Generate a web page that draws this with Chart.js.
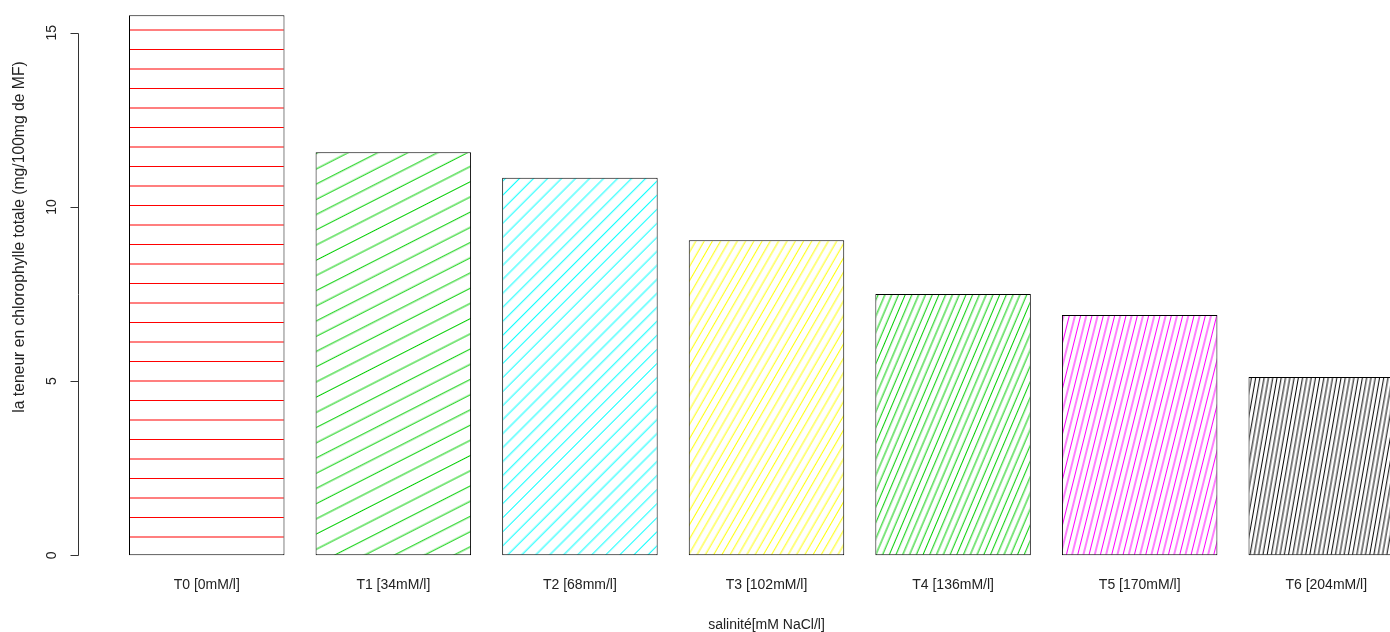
<!DOCTYPE html>
<html>
<head>
<meta charset="utf-8">
<title>Chlorophylle totale</title>
<script src="https://cdn.jsdelivr.net/npm/chart.js@4.4.0/dist/chart.umd.min.js"></script>
<style>
  html, body { margin: 0; padding: 0; background: #fff; overflow: hidden; }
  #wrap { width: 1390px; height: 632px; overflow: hidden; }
</style>
</head>
<body>
<div id="wrap"><canvas id="chloro-chart" width="1460" height="632"></canvas></div>
<script>
const categories = ["T0 [0mM/l]", "T1 [34mM/l]", "T2 [68mm/l]", "T3 [102mM/l]", "T4 [136mM/l]", "T5 [170mM/l]", "T6 [204mM/l]"];
const chlorophyll = [15.5, 11.57, 10.84, 9.04, 7.5, 6.9, 5.12];
const yTicks = [0, 5, 10, 15];

// hachures : couleur, angle (degrés) et écart entre lignes (px)
const hatchColours = ["#ff0000", "#00cd00", "#00ffff", "#ffff00", "#00cd00", "#ff00ff", "#000000"];
const hatchAngles = [0, 27, 45, 60, 67, 76, 80];
const hatchGaps = [19.5, 13.6, 9.9, 7.2, 6.2, 5.5, 4.2];

const FONT = '"Liberation Sans", Arial, sans-serif';

function hatch(colour, angle, gap) {
    // tuile opaque de plusieurs lignes pour garder un écart non entier
    const n = Math.max(1, Math.round(120 / gap));
    const tile = document.createElement("canvas");
    tile.width = 4;
    tile.height = Math.round(n * gap);
    const step = tile.height / n;
    const t = tile.getContext("2d");
    t.fillStyle = "#fff";
    t.fillRect(0, 0, tile.width, tile.height);
    t.fillStyle = colour;
    for (let j = 0; j < n; j++) t.fillRect(0, j * step, tile.width, 1);
    const p = t.createPattern(tile, "repeat");
    p.setTransform(new DOMMatrix().translate(0, 10).rotate(-angle));
    return p;
}

// centres des barres comme barplot(space = 0.2)
const centres = categories.map((_, i) => 0.7 + 1.2 * i);

const rAxes = {
    id: "rAxes",
    afterDraw(chart) {
        const { ctx, scales: { x, y } } = chart;
        const y0 = y.getPixelForValue(0);
        const axisX = x.left + 0.5;
        ctx.save();
        ctx.strokeStyle = "#333";
        ctx.lineWidth = 1;
        ctx.beginPath();
        ctx.moveTo(axisX, Math.round(y.getPixelForValue(yTicks[0])) + 0.5);
        ctx.lineTo(axisX, Math.round(y.getPixelForValue(yTicks[yTicks.length - 1])) + 0.5);
        yTicks.forEach(v => {
            const py = Math.round(y.getPixelForValue(v)) + 0.5;
            ctx.moveTo(axisX - 8, py);
            ctx.lineTo(axisX, py);
        });
        ctx.stroke();

        ctx.fillStyle = "#222";
        ctx.font = "14px " + FONT;
        ctx.textAlign = "center";
        ctx.textBaseline = "middle";
        yTicks.forEach(v => {
            ctx.save();
            ctx.translate(axisX - 26, y.getPixelForValue(v));
            ctx.rotate(-Math.PI / 2);
            ctx.fillText(String(v), 0, 0);
            ctx.restore();
        });
        categories.forEach((c, i) => ctx.fillText(c, x.getPixelForValue(centres[i]), y0 + 30));
        ctx.fillText("salinité[mM NaCl/l]", (x.left + x.right) / 2, y0 + 70);

        ctx.save();
        ctx.translate(20, 237);
        ctx.rotate(-Math.PI / 2);
        ctx.font = "15.7px " + FONT;
        ctx.fillText("la teneur en chlorophylle totale (mg/100mg de MF)", 0, 0);
        ctx.restore();
        ctx.restore();
    }
};

document.addEventListener("DOMContentLoaded", function () {
    const ctx = document.getElementById("chloro-chart").getContext("2d");
    new Chart(ctx, {
        type: "bar",
        data: {
            datasets: [{
                data: chlorophyll.map((v, i) => ({ x: centres[i], y: v })),
                backgroundColor: hatchColours.map((c, i) => hatch(c, hatchAngles[i], hatchGaps[i])),
                borderColor: "#000",
                borderWidth: 1,
                borderSkipped: false,
                categoryPercentage: 1,
                barPercentage: 1 / 1.2
            }]
        },
        options: {
            responsive: false,
            animation: false,
            layout: { padding: { left: 78, right: 5, top: 0, bottom: 55 } },
            plugins: { legend: { display: false }, tooltip: { enabled: false } },
            scales: {
                x: {
                    type: "linear",
                    display: false,
                    offset: false,
                    min: -0.128,
                    max: 8.728,
                    afterBuildTicks: s => { s.ticks = centres.map(v => ({ value: v })); }
                },
                y: {
                    display: false,
                    min: -0.623,
                    max: 15.94
                }
            }
        },
        plugins: [rAxes]
    });
});
</script>
</body>
</html>
